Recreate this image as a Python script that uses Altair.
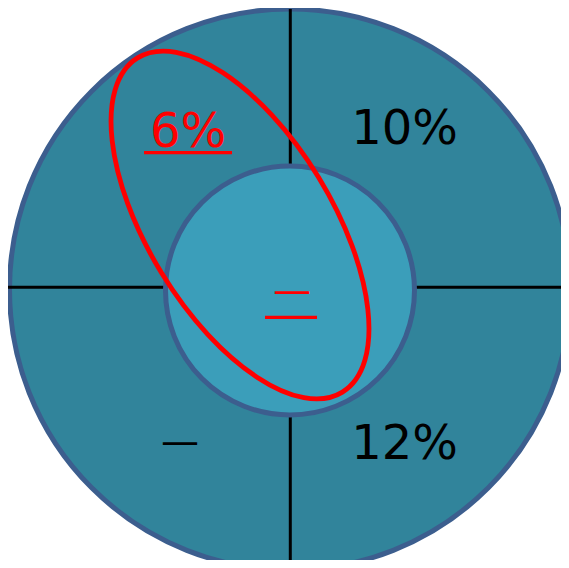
import altair as alt
import pandas as pd

# ---- content ----
labels = ["6%", "10%", "12%", "—", "—"]
label_color = ["#FF0000", "#000000", "#000000", "#000000", "#FF0000"]
label_font = [48, 48, 48, 38, 38]
label_x = [188, 404.5, 404.5, 180, 292]
label_y = [146.7, 143.5, 459, 454.3, 303.3]

# underlined labels (6% and centre)
ul_x = [144, 265]
ul_x2 = [232, 317]
ul_y = [152.7, 317.3]

# rings: outer zone and inner (central) zone
ring_name = ["outer", "inner"]
ring_cx = [290, 290]
ring_cy = [289.5, 290.5]
ring_diam = [561, 249]
ring_fill = ["#31849B", "#3B9EBA"]

# quadrant dividers
div_x = [290.3, 8]
div_x2 = [290.3, 569]
div_y = [9, 287.3]
div_y2 = [568, 287.3]

# highlight ellipse
ell_cx = [240]
ell_cy = [225]
ell_major = [392]
ell_angle = [58.5]

X = alt.Scale(domain=[8, 561])
Y = alt.Scale(domain=[8, 560], reverse=True)

rings = pd.DataFrame({"name": ring_name, "x": ring_cx, "y": ring_cy,
                      "s": [d * d for d in ring_diam], "fill": ring_fill})
divs = pd.DataFrame({"x": div_x, "x2": div_x2, "y": div_y, "y2": div_y2})
texts = pd.DataFrame({"t": labels, "c": label_color, "fs": label_font,
                      "x": label_x, "y": label_y})
uls = pd.DataFrame({"x": ul_x, "x2": ul_x2, "y": ul_y})
ell = pd.DataFrame({"x": ell_cx, "y": ell_cy, "s": [m * m for m in ell_major],
                    "a": ell_angle})

def ring_layer(i):
    return alt.Chart(rings.iloc[[i]]).mark_point(
        shape="circle", filled=True, opacity=1, fillOpacity=1, strokeOpacity=1,
        stroke="#3C5E8E", strokeWidth=5
    ).encode(
        x=alt.X("x:Q", scale=X, axis=None),
        y=alt.Y("y:Q", scale=Y, axis=None),
        size=alt.Size("s:Q", scale=None, legend=None),
        fill=alt.Fill("fill:N", scale=None, legend=None),
    )

outer = ring_layer(0)
inner = ring_layer(1)

dividers = alt.Chart(divs).mark_rule(color="black", strokeWidth=3).encode(
    x=alt.X("x:Q", scale=X, axis=None), x2="x2:Q",
    y=alt.Y("y:Q", scale=Y, axis=None), y2="y2:Q",
)

text = alt.Chart(texts).mark_text(
    font="DejaVu Sans", align="center", baseline="alphabetic"
).encode(
    x=alt.X("x:Q", scale=X, axis=None),
    y=alt.Y("y:Q", scale=Y, axis=None),
    text="t:N",
    color=alt.Color("c:N", scale=None, legend=None),
    size=alt.Size("fs:Q", scale=None, legend=None),
)

underline = alt.Chart(uls).mark_rule(color="#FF0000", strokeWidth=3.3).encode(
    x=alt.X("x:Q", scale=X, axis=None), x2="x2:Q",
    y=alt.Y("y:Q", scale=Y, axis=None),
)

ellipse = alt.Chart(ell).mark_point(
    shape="M -1 0 A 1 0.469 0 1 0 1 0 A 1 0.469 0 1 0 -1 0 Z",
    filled=False, opacity=1, strokeOpacity=1, stroke="#FF0000", strokeWidth=4.8
).encode(
    x=alt.X("x:Q", scale=X, axis=None),
    y=alt.Y("y:Q", scale=Y, axis=None),
    size=alt.Size("s:Q", scale=None, legend=None),
    angle=alt.Angle("a:Q", scale=None),
)

chart = alt.layer(outer, dividers, inner, text, underline, ellipse).properties(
    width=553, height=552, padding=0, autosize=alt.AutoSizeParams(type="none"),
    background="white",
).configure_view(stroke=None)

chart.save("out.html", embed_options={"renderer": "svg", "actions": False})
